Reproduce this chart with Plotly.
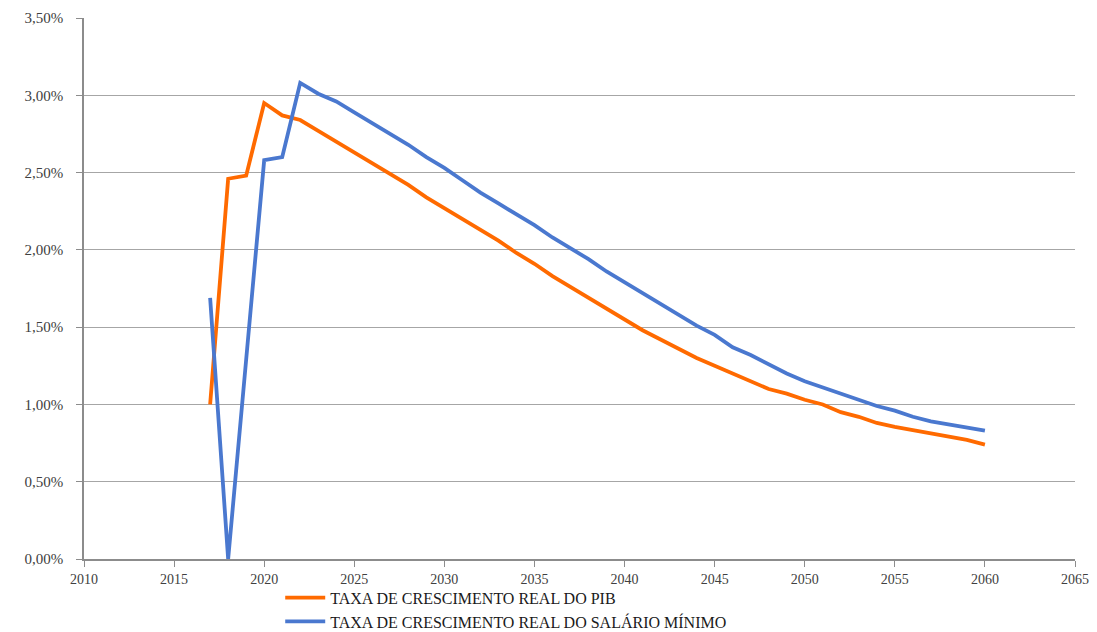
import plotly.graph_objects as go

# Anos da projeção
anos = list(range(2017, 2061))

# Taxa de crescimento real do PIB (%)
pib = [1.00, 2.46, 2.48, 2.95, 2.87, 2.84, 2.77, 2.70, 2.63, 2.56,
       2.49, 2.42, 2.34, 2.27, 2.20, 2.13, 2.06, 1.98, 1.91, 1.83,
       1.76, 1.69, 1.62, 1.55, 1.48, 1.42, 1.36, 1.30, 1.25, 1.20,
       1.15, 1.10, 1.07, 1.03, 1.00, 0.95, 0.92, 0.88, 0.855, 0.835,
       0.81, 0.79, 0.77, 0.74]

# Taxa de crescimento real do salário mínimo (%)
salario = [1.69, 0.00, 1.29, 2.58, 2.60, 3.08, 3.01, 2.96, 2.89, 2.82,
           2.75, 2.68, 2.60, 2.53, 2.45, 2.37, 2.30, 2.23, 2.16, 2.08,
           2.01, 1.94, 1.86, 1.79, 1.72, 1.65, 1.58, 1.51, 1.45, 1.37,
           1.32, 1.26, 1.20, 1.15, 1.11, 1.07, 1.03, 0.99, 0.96, 0.92,
           0.89, 0.87, 0.85, 0.83]

y_ticks = [0.0, 0.5, 1.0, 1.5, 2.0, 2.5, 3.0, 3.5]
y_labels = ["0,00%", "0,50%", "1,00%", "1,50%", "2,00%", "2,50%", "3,00%", "3,50%"]
x_ticks = list(range(2010, 2066, 5))

fig = go.Figure()
fig.add_trace(go.Scatter(
    x=anos, y=pib, mode="lines",
    name="TAXA DE CRESCIMENTO REAL DO PIB",
    line=dict(color="#FF6A00", width=3.8),
))
fig.add_trace(go.Scatter(
    x=anos, y=salario, mode="lines",
    name="TAXA DE CRESCIMENTO REAL DO SALÁRIO MÍNIMO",
    line=dict(color="#4A78CF", width=3.8),
))

serif = "Liberation Serif, serif"

fig.update_layout(
    width=1097, height=632,
    margin=dict(l=84, r=22, t=18, b=73, autoexpand=False),
    paper_bgcolor="white", plot_bgcolor="white",
    showlegend=True,
    legend=dict(
        x=0.198, y=-0.04, xanchor="left", yanchor="top",
        orientation="v",
        font=dict(family=serif, size=16, color="#1a1a1a"),
        bgcolor="rgba(0,0,0,0)",
        tracegroupgap=0,
        itemwidth=40,
    ),
    xaxis=dict(
        range=[2010, 2065], tickvals=x_ticks,
        showgrid=False, zeroline=False,
        showline=True, linecolor="#8c8c8c", linewidth=1.5,
        ticks="outside", ticklen=6, tickcolor="#8c8c8c",
        ticklabelstandoff=0,
        tickfont=dict(family=serif, size=14, color="#404040"),
    ),
    yaxis=dict(
        range=[0, 3.5], tickvals=y_ticks, ticktext=y_labels,
        showgrid=True, gridcolor="#a6a6a6", gridwidth=1,
        zeroline=False,
        showline=True, linecolor="#8c8c8c", linewidth=1.5,
        ticks="outside", ticklen=6, tickcolor="#8c8c8c",
        ticklabelstandoff=10,
        tickfont=dict(family=serif, size=15, color="#404040"),
    ),
)

fig.write_html("out.html")
